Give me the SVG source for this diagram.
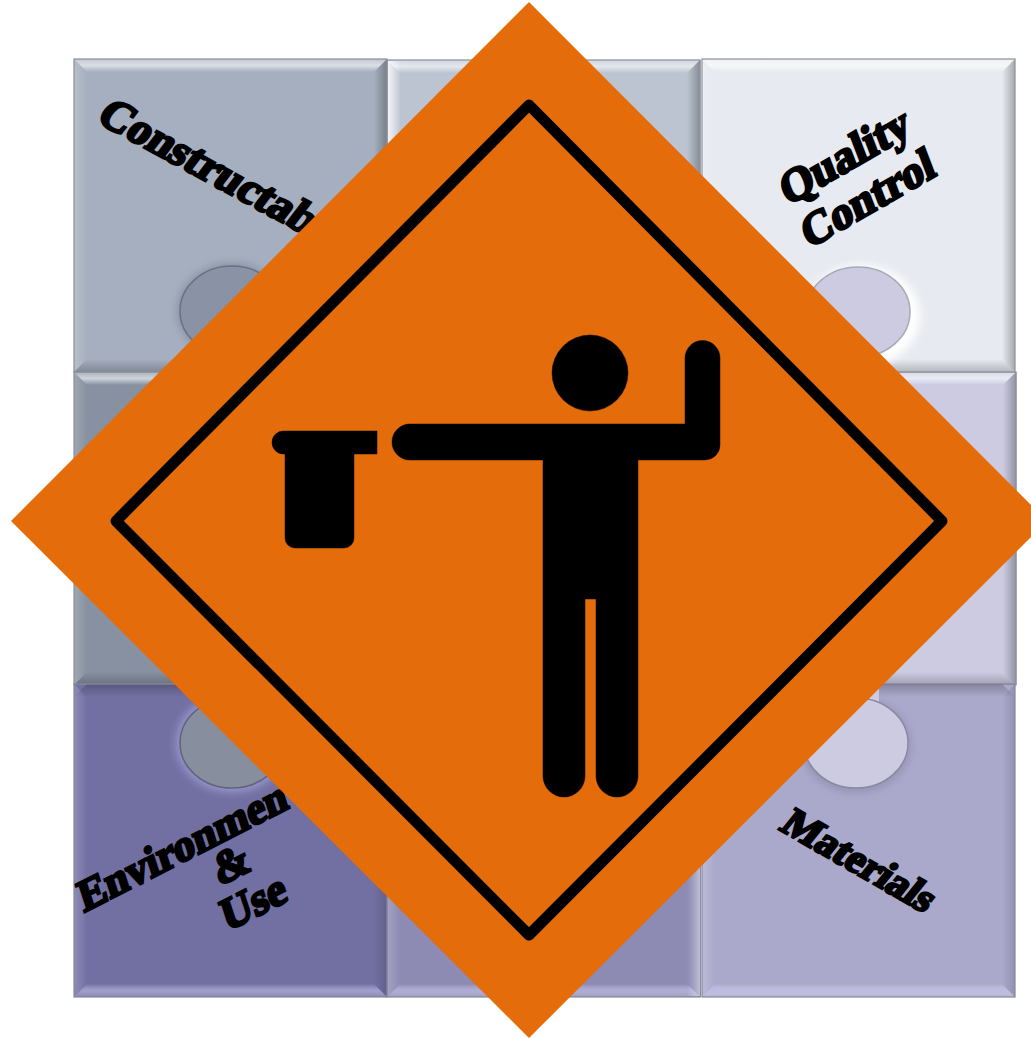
<svg xmlns="http://www.w3.org/2000/svg" width="1031" height="1038" viewBox="0 0 1031 1038">
<defs>
<filter id="soft" x="-30%" y="-30%" width="160%" height="160%"><feGaussianBlur stdDeviation="4"/></filter>
<linearGradient id="gTopLit" x1="0" y1="0" x2="0" y2="1"><stop offset="0" stop-color="#fff" stop-opacity=".3"/><stop offset=".5" stop-color="#fff" stop-opacity=".6"/><stop offset="1" stop-color="#fff" stop-opacity="0"/></linearGradient>
<linearGradient id="gBottomLit" x1="0" y1="1" x2="0" y2="0"><stop offset="0" stop-color="#fff" stop-opacity=".15"/><stop offset=".5" stop-color="#ccf" stop-opacity=".5"/><stop offset="1" stop-color="#fff" stop-opacity="0"/></linearGradient>
<linearGradient id="gRightDark" x1="1" y1="0" x2="0" y2="0"><stop offset="0" stop-color="#000" stop-opacity=".28"/><stop offset="1" stop-color="#000" stop-opacity="0"/></linearGradient>
<linearGradient id="gLeftLit" x1="0" y1="0" x2="1" y2="0"><stop offset="0" stop-color="#fff" stop-opacity=".2"/><stop offset="1" stop-color="#fff" stop-opacity="0"/></linearGradient>
<linearGradient id="gLeftBright" x1="0" y1="0" x2="1" y2="0"><stop offset="0" stop-color="#fff" stop-opacity=".75"/><stop offset="1" stop-color="#fff" stop-opacity="0"/></linearGradient>
<linearGradient id="gRightBright" x1="1" y1="0" x2="0" y2="0"><stop offset="0" stop-color="#dde" stop-opacity=".7"/><stop offset="1" stop-color="#dde" stop-opacity="0"/></linearGradient>
<linearGradient id="gBottomDark" x1="0" y1="1" x2="0" y2="0"><stop offset="0" stop-color="#000" stop-opacity=".22"/><stop offset="1" stop-color="#000" stop-opacity="0"/></linearGradient>
<g id="bevelTop">
<polygon points="0,0 313,0 300,13 13,13" fill="url(#gTopLit)"/>
<polygon points="0,0 13,13 13,300 0,313" fill="url(#gLeftLit)"/>
<polygon points="313,0 313,313 300,300 300,13" fill="url(#gRightDark)"/>
<polygon points="0,313 313,313 300,300 13,300" fill="url(#gBottomDark)"/>
<rect x="0" y="0" width="313" height="313" fill="none" stroke="#8a8f98" stroke-width="1.2"/>
</g>
<g id="bevelBottom">
<polygon points="0,0 313,0 300,13 13,13" fill="url(#gBottomDark)" transform="matrix(1 0 0 -1 0 13)"/>
<polygon points="0,0 13,13 13,300 0,313" fill="url(#gLeftLit)"/>
<polygon points="313,0 313,313 300,300 300,13" fill="url(#gRightDark)" opacity=".5"/>
<polygon points="0,313 313,313 300,300 13,300" fill="url(#gBottomLit)"/>
<rect x="0" y="0" width="313" height="313" fill="none" stroke="#85879a" stroke-width="1.2"/>
</g>
</defs>
<style>
text{font-family:"Liberation Serif","DejaVu Serif",serif;font-weight:700;font-size:45px;fill:#000;stroke:#000;stroke-width:2.6px;text-anchor:middle}
.figure{fill:#000;stroke:#000;stroke-opacity:.45;stroke-width:1}
</style>
<rect width="1031" height="1038" fill="#fff"/>
<g id="tile-middle-left"><rect x="74" y="372" width="314" height="313" fill="#8891a1"/><use href="#bevelTop" x="74" y="372"/></g>
<g id="tile-middle-right"><rect x="701" y="372" width="316" height="313" fill="#cccbe2"/><use href="#bevelTop" x="703" y="372"/></g>
<g id="tile-top-middle"><rect x="387" y="60" width="314" height="313" fill="#bcc4d1"/><use href="#bevelTop" x="387" y="60"/><rect x="388" y="61" width="13" height="311" fill="url(#gLeftBright)"/></g>
<g id="tile-bottom-middle"><rect x="387" y="685" width="314" height="312" fill="#8d8bb3"/><use href="#bevelBottom" x="387" y="684"/><rect x="687" y="685" width="13" height="311" fill="url(#gRightBright)"/></g>
<g id="tile-top-left">
<rect x="74" y="59" width="313" height="313" fill="#a6afbf"/><use href="#bevelTop" x="74" y="59"/>
<ellipse cx="232" cy="311" rx="55" ry="48" fill="#737c8c" opacity=".55" filter="url(#soft)"/>
<ellipse cx="232" cy="311" rx="52" ry="45" fill="#8a93a5" stroke="#697282" stroke-width="1.5"/>
<text transform="translate(200,178) rotate(28.500) skewX(-9)">Constructab</text>
</g>
<g id="tile-top-right">
<rect x="702" y="59" width="313" height="313" fill="#e7eaf0"/><use href="#bevelTop" x="702" y="59"/>
<ellipse cx="862" cy="316" rx="58" ry="51" fill="#fff" filter="url(#soft)"/>
<ellipse cx="858" cy="312" rx="52" ry="45" fill="#cccbe2" stroke="#a9a9b5" stroke-width="1.5"/>
<text transform="translate(850,170) rotate(-30) skewX(-9)">Quality</text>
<text transform="translate(873,212) rotate(-30) skewX(-9)">Control</text>
</g>
<g id="tile-bottom-left">
<rect x="74" y="685" width="313" height="312" fill="#7270a3"/><use href="#bevelBottom" x="74" y="684"/>
<ellipse cx="232" cy="743" rx="56" ry="49" fill="#a3a2d8" opacity=".8" filter="url(#soft)"/>
<ellipse cx="232" cy="743" rx="52" ry="45" fill="#878f9f" stroke="#62627f" stroke-width="1.5"/>
<text transform="translate(187,860) rotate(-27) skewX(-9)" style="font-size:43.500px">Environmen</text>
<text transform="translate(236,878) rotate(-27) skewX(-9)">&amp;</text>
<text transform="translate(258,916) rotate(-27) skewX(-9)">Use</text>
</g>
<g id="tile-bottom-right">
<rect x="702" y="685" width="313" height="312" fill="#aba9cb"/><use href="#bevelBottom" x="702" y="684"/>
<ellipse cx="856" cy="745" rx="55" ry="48" fill="#8d8bad" opacity=".7" filter="url(#soft)"/>
<rect x="860" y="686" width="19" height="20" fill="#cccbe2"/>
<ellipse cx="856" cy="743" rx="52" ry="45" fill="#cccbe2" stroke="#8b8a9d" stroke-width="1.5"/>
<text transform="translate(851,871) rotate(30) skewX(-9)" style="font-size:41px">Materials</text>
</g>
<g id="sign">
<polygon points="529,2 1047,521 529,1038 11,521" fill="#e46c0a"/>
<polygon points="529,105 942,521 529,935 116,521" fill="none" stroke="#000" stroke-width="11" stroke-linejoin="round"/>
</g>
<g id="figure" class="figure">
<circle cx="590" cy="373" r="38"/>
<path d="M410,424H685V358a17.500,17.500 0 0 1 35,0V445a15,15 0 0 1 -15,15H638V776a21,21 0 0 1 -42,0V599H585V776a21,21 0 0 1 -42,0V460H410a18,18 0 0 1 0,-36Z"/>
<path d="M283.500,431H377V454H354V538a10,10 0 0 1 -10,10H295a10,10 0 0 1 -10,-10V454H283.500a11.500,11.500 0 0 1 0,-23Z"/>
</g>
</svg>
